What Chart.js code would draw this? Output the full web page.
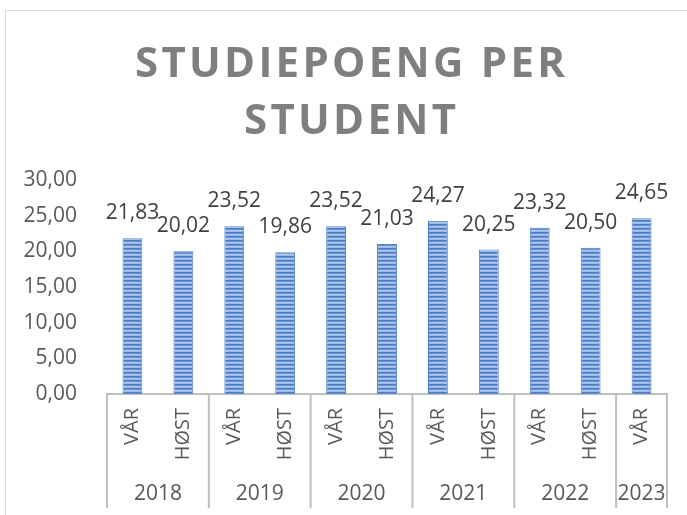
<!DOCTYPE html>
<html>
<head>
<meta charset="utf-8">
<script src="https://cdn.jsdelivr.net/npm/chart.js@4"></script>
<style>
  html, body { margin: 0; padding: 0; background: #ffffff; }
  #wrap { position: relative; width: 687px; height: 515px; }
</style>
</head>
<body>
<div id="wrap"><canvas id="c" width="687" height="515"></canvas></div>
<script>
// ---- data ----
const titleLines = ['STUDIEPOENG PER', 'STUDENT'];
const seasons = ['VÅR','HØST','VÅR','HØST','VÅR','HØST','VÅR','HØST','VÅR','HØST','VÅR'];
const barYears = ['2018','2018','2019','2019','2020','2020','2021','2021','2022','2022','2023'];
const values = [21.83, 20.02, 23.52, 19.86, 23.52, 21.03, 24.27, 20.25, 23.32, 20.50, 24.65];
const yTicks = [0, 5, 10, 15, 20, 25, 30];

const fmt = v => v.toFixed(2).replace('.', ',');
const FONT = '"Open Sans", "Liberation Sans", sans-serif';

// striped pattern
function makePattern() {
  const p = document.createElement('canvas');
  p.width = 4; p.height = 4;
  const g = p.getContext('2d');
  g.fillStyle = '#4a7bc4'; g.fillRect(0, 0, 4, 1);
  g.fillStyle = '#6791d2'; g.fillRect(0, 1, 4, 1);
  g.fillStyle = '#adc6eb'; g.fillRect(0, 2, 4, 1);
  g.fillStyle = '#9bb9e5'; g.fillRect(0, 3, 4, 1);
  return document.getElementById('c').getContext('2d').createPattern(p, 'repeat');
}

const decor = {
  id: 'decor',
  beforeDraw(chart) {
    const ctx = chart.ctx;
    ctx.save();
    ctx.fillStyle = '#ffffff';
    ctx.fillRect(0, 0, chart.width, chart.height);
    ctx.strokeStyle = '#d9d9d9';
    ctx.lineWidth = 1;
    ctx.beginPath();
    ctx.moveTo(5.5, 515); ctx.lineTo(5.5, 10.5); ctx.lineTo(687, 10.5);
    ctx.stroke();
    // title
    ctx.fillStyle = '#7f7f7f';
    ctx.font = 'bold 42px ' + FONT;
    ctx.textBaseline = 'alphabetic';
    ctx.textAlign = 'left';
    const natural = ctx.measureText(titleLines[0]).width;
    const n = titleLines[0].length;
    const spacing = (430 - natural) / (n - 1);
    ctx.letterSpacing = spacing + 'px';
    const cx = 350;
    const baselines = [77, 134];
    titleLines.forEach((t, i) => {
      const w = ctx.measureText(t).width - spacing;
      ctx.fillText(t, cx - w / 2, baselines[i]);
    });
    ctx.restore();
  },
  afterDraw(chart) {
    const ctx = chart.ctx;
    const xs = chart.scales.x;
    const area = chart.chartArea;
    const half = (xs.getPixelForValue(1) - xs.getPixelForValue(0)) / 2;
    ctx.save();
    ctx.strokeStyle = '#bfbfbf';
    ctx.lineWidth = 2;
    // separators & years
    const groups = [];
    barYears.forEach((y, i) => {
      if (!groups.length || groups[groups.length - 1].year !== y) groups.push({year: y, start: i, end: i});
      else groups[groups.length - 1].end = i;
    });
    const bottom = 508;
    ctx.beginPath();
    groups.forEach(g => {
      const x = xs.getPixelForValue(g.start) - half;
      ctx.moveTo(x, area.bottom); ctx.lineTo(x, bottom);
    });
    const xe = xs.getPixelForValue(barYears.length - 1) + half;
    ctx.moveTo(xe, area.bottom); ctx.lineTo(xe, bottom);
    ctx.stroke();
    ctx.fillStyle = '#595959';
    ctx.font = '21px ' + FONT;
    ctx.textAlign = 'center';
    ctx.textBaseline = 'middle';
    groups.forEach(g => {
      const x = (xs.getPixelForValue(g.start) + xs.getPixelForValue(g.end)) / 2;
      ctx.fillText(g.year, x, 494);
    });
    // data labels
    ctx.fillStyle = '#404040';
    ctx.font = '21px ' + FONT;
    const meta = chart.getDatasetMeta(0);
    meta.data.forEach((bar, i) => {
      ctx.fillText(fmt(values[i]), bar.x, bar.y - 25);
    });
    ctx.restore();
  }
};

new Chart(document.getElementById('c'), {
  type: 'bar',
  data: {
    labels: seasons,
    datasets: [{
      data: values,
      backgroundColor: makePattern(),
      borderColor: '#5583c6',
      borderWidth: 1,
      barPercentage: 0.39,
      categoryPercentage: 1.0
    }]
  },
  options: {
    responsive: false,
    devicePixelRatio: 1,
    animation: false,
    layout: { padding: { top: 180, right: 20, left: 0, bottom: 0 } },
    plugins: { legend: { display: false }, title: { display: false }, tooltip: { enabled: false } },
    scales: {
      x: {
        grid: { display: false, drawTicks: false },
        border: { display: true, color: '#bfbfbf', width: 2 },
        ticks: {
          autoSkip: false, minRotation: 90, maxRotation: 90, padding: 14,
          color: '#595959', font: { family: FONT, size: 20 }
        },
        afterFit(s) { s.height = 121; }
      },
      y: {
        min: 0, max: 30,
        grid: { display: false, drawTicks: false },
        border: { display: false },
        afterBuildTicks(s) { s.ticks = yTicks.map(v => ({ value: v })); },
        ticks: {
          padding: 30, color: '#595959', font: { family: FONT, size: 21 },
          callback: v => fmt(v)
        },
        afterFit(s) { s.width = 107; }
      }
    }
  },
  plugins: [decor]
});
</script>
</body>
</html>
